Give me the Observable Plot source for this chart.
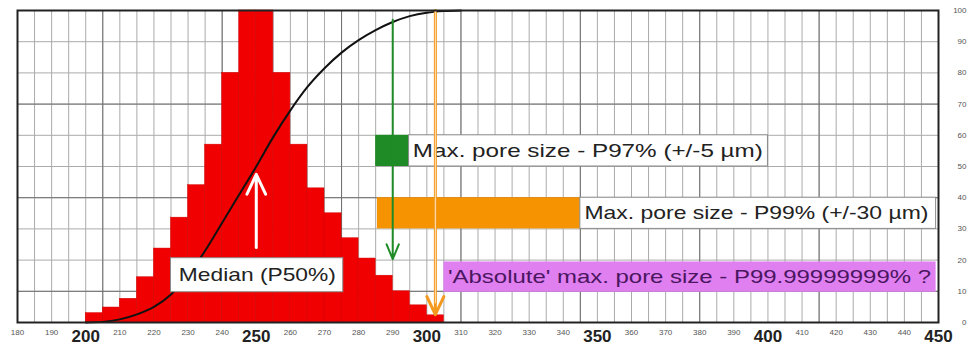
<!DOCTYPE html>
<html><head><meta charset="utf-8">
<script src="https://cdn.jsdelivr.net/npm/d3@7"></script>
<script src="https://cdn.jsdelivr.net/npm/@observablehq/plot@0.6"></script>
<style>body{margin:0;background:#fff} svg{display:block}</style>
</head><body><div id="chart"></div>
<script>
// Histogram (bin start, bin width 5 µm) — relative height on the 0–100 scale
const binStart = [200,205,210,215,220,225,230,235,240,245,250,255,260,265,270,275,280,285,290,295,300];
const binValue = [3,4.8,7.6,14.5,23.7,33.6,44,57,80,100,100,80,57,43,35,27,20.5,15,10,5.5,2.3];
const binWidth = 5;

// Cumulative distribution (%)
const cdfX = [200,205,210,215,220,225,230,235,240,245,250,255,260,265,270,275,280,285,290,295,300,305,310];
const cdfY = [0,0.2,1,2.6,5,9,15,23,32,41,50,59.5,68,75.5,81.5,86.5,90.5,93.7,96.3,98.2,99.3,99.8,100];

// Tick labels
const xMinorTicks = [180,190,210,220,230,240,260,270,280,290,310,320,330,340,360,370,380,390,410,420,430,440];
const xMajorTicks = [200,250,300,350,400,450];
const yTicks = [0,10,20,30,40,50,60,70,80,90,100];

// Annotation values
const medianValue = 250, p97Value = 290, absMaxValue = 302.5;
const boxText = [
  "Median (P50%)",
  "Max. pore size - P97% (+/-5 µm)",
  "Max. pore size - P99% (+/-30 µm)",
  "'Absolute' max. pore size - P99.99999999% ?"
];

const bins = binStart.map((s, i) => ({x1: s, x2: s + binWidth, y: binValue[i]}));
const cdf = cdfX.map((x, i) => ({x, y: cdfY[i]}));

const colorBoxes = [
  {x1: 285, x2: 295, y1: 50, y2: 60, fill: "#1f8b27"},
  {x1: 285.5, x2: 345, y1: 30, y2: 40, fill: "#f59300"},
  {x1: 305, x2: 449.3, y1: 9.7, y2: 19.4, fill: "#e07ff0"}
];
const whiteBoxes = [
  {x1: 225, x2: 275.5, y1: 9.7, y2: 20.6},
  {x1: 294.8, x2: 400, y1: 50, y2: 60},
  {x1: 345, x2: 449.3, y1: 30, y2: 40}
];
const labels = [
  {x: 227.3, y: 15.2, text: boxText[0], fill: "#222"},
  {x: 295.9, y: 55, text: boxText[1], fill: "#222"},
  {x: 346.2, y: 35, text: boxText[2], fill: "#222"},
  {x: 306.2, y: 14.6, text: boxText[3], fill: "#4a1660"}
];
const labelWidths = [157, 350, 344, 483];

const gridMinor = d3.range(180, 451, 5);
const gridMajor = d3.range(205, 451, 35);
const gridY = d3.range(0, 101, 10);
const gridYMajor = [10, 40, 70];

const plot = Plot.plot({
  width: 977, height: 347,
  marginLeft: 17, marginRight: 39, marginTop: 10, marginBottom: 25,
  style: {fontFamily: "'Liberation Sans', Arial, sans-serif", background: "#fff"},
  x: {domain: [180, 450]},
  y: {domain: [0, 100]},
  marks: [
    Plot.ruleX(gridMinor, {stroke: "#ababab", strokeWidth: 1}),
    Plot.ruleY(gridY, {stroke: "#ababab", strokeWidth: 1}),
    Plot.ruleX(gridMajor, {stroke: "#707070", strokeWidth: 1}),
    Plot.ruleY(gridYMajor, {stroke: "#707070", strokeWidth: 1}),
    Plot.rectY(bins, {x1: "x1", x2: "x2", y: "y", fill: "#f00000", stroke: "#d40000", strokeWidth: 0.5}),
    Plot.line(cdf, {x: "x", y: "y", curve: "monotone-x", stroke: "#111", strokeWidth: 2}),
    Plot.rect(colorBoxes, {x1: "x1", x2: "x2", y1: "y1", y2: "y2", fill: "fill"}),
    Plot.rect(whiteBoxes, {x1: "x1", x2: "x2", y1: "y1", y2: "y2", fill: "white", stroke: "#8a8a8a", strokeWidth: 1}),
    Plot.text(labels, {x: "x", y: "y", text: "text", fill: "fill", textAnchor: "start", fontSize: 19}),
    // orange "absolute max" line
    Plot.arrow([{v: absMaxValue}], {x1: "v", x2: "v", y1: () => 100, y2: () => 2.5, stroke: "#f39a1e", strokeWidth: 3, headLength: 10, headAngle: 50}),
    Plot.ruleX([absMaxValue], {y1: 100, y2: 6, stroke: "#ffe2b5", strokeWidth: 1}),
    // green P97 arrow
    Plot.arrow([{v: p97Value}], {x1: "v", x2: "v", y1: () => 97, y2: () => 20.3, stroke: "#1f8b27", strokeWidth: 2, headLength: 12, headAngle: 45}),
    // white median arrow
    Plot.arrow([{v: medianValue}], {x1: "v", x2: "v", y1: () => 24, y2: () => 47.5, stroke: "white", strokeWidth: 3, headLength: 11, headAngle: 50}),
    Plot.frame({stroke: "#222", strokeWidth: 2}),
    Plot.axisX({ticks: xMinorTicks, tickSize: 0, tickPadding: 7, fontSize: 8, fill: "#555", tickFormat: d => String(d), label: null}),
    Plot.axisX({ticks: xMajorTicks, tickSize: 0, tickPadding: 7, fontSize: 17, fontWeight: "bold", fill: "#222", tickFormat: d => String(d), label: null}),
    Plot.axisY({ticks: yTicks, anchor: "right", tickSize: 0, tickPadding: 28, textAnchor: "end", fontSize: 8, fill: "#555", tickFormat: d => String(d), label: null})
  ]
});

plot.querySelectorAll("text").forEach(t => {
  const i = boxText.indexOf(t.textContent);
  if (i >= 0) {
    t.setAttribute("textLength", labelWidths[i]);
    t.setAttribute("lengthAdjust", "spacingAndGlyphs");
  }
});

document.getElementById("chart").appendChild(plot);
</script>
</body></html>
